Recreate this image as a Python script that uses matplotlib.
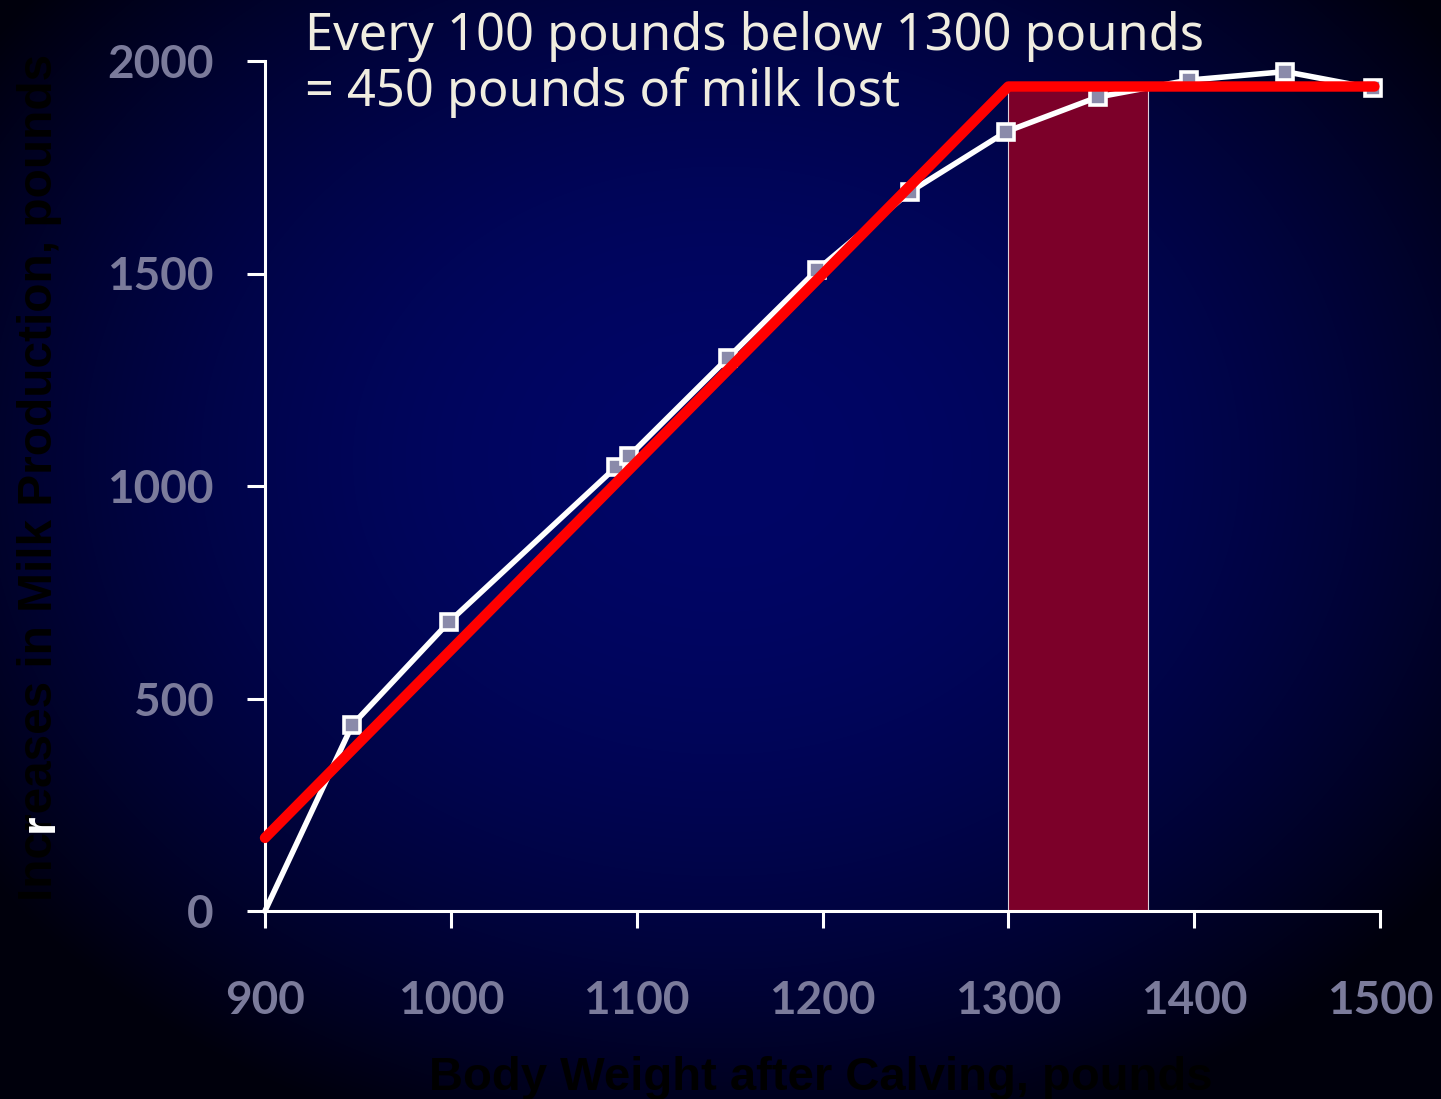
import matplotlib
matplotlib.use("Agg")
import matplotlib.pyplot as plt
import numpy as np
from matplotlib.transforms import IdentityTransform

# body weight after calving (lb) vs. increase in milk production (lb)
weight = [900, 947, 999, 1089, 1096, 1149, 1197, 1247, 1299, 1348, 1397, 1449, 1496]
milk = [0, 438, 680, 1045, 1071, 1301, 1508, 1692, 1834, 1915, 1955, 1975, 1936]

# red trend line
trend_x = [900, 1300, 1497]
trend_y = [172, 1940, 1940]

# highlighted band
band_start = 1300
band_width = 75
band_height = 1940

x_ticks = [900, 1000, 1100, 1200, 1300, 1400, 1500]
y_ticks = [0, 500, 1000, 1500, 2000]

note_lines = ["Every 100 pounds below 1300 pounds", "= 450 pounds of milk lost"]

W, H, DPI = 1441, 1099, 100
fig = plt.figure(figsize=(W / DPI, H / DPI), dpi=DPI)

# radial navy background
bg = fig.add_axes([0, 0, 1, 1], zorder=-10)
yy, xx = np.mgrid[0:H, 0:W]
d = np.sqrt(((xx - 720) / 900.0) ** 2 + ((yy - 460) / 720.0) ** 2)
t = 1 - np.clip(d, 0, 1) ** 2
centre = np.array([0, 6, 102]) / 255.0
edge = np.array([0, 0, 12]) / 255.0
img = edge[None, None, :] + (centre - edge)[None, None, :] * t[:, :, None]
bg.imshow(img, aspect="auto", extent=[0, 1, 0, 1])
bg.axis("off")

ax = fig.add_axes([265 / W, 1 - 911 / H, (1380 - 265) / W, (911 - 61) / H])
ax.set_facecolor("none")

ax.bar(band_start, band_height, width=band_width, align="edge",
       color="#7c0029", edgecolor="#e0d0dc", linewidth=0.8, zorder=1)
ax.plot(weight, milk, color="white", lw=4, marker="s", markersize=11.5,
        markerfacecolor="#8a8aaa", markeredgecolor="white", markeredgewidth=2.6,
        markevery=list(range(1, len(weight))), zorder=3, clip_on=False)
ax.plot(trend_x, trend_y, color="#ff0000", lw=7.5, solid_capstyle="round",
        solid_joinstyle="round", zorder=4, clip_on=False)

ax.set_xlim(900, 1500)
ax.set_ylim(0, 2000)
ax.set_xticks(x_ticks)
ax.set_yticks(y_ticks)
for s in ["top", "right"]:
    ax.spines[s].set_visible(False)
for s in ["left", "bottom"]:
    ax.spines[s].set_color("white")
    ax.spines[s].set_linewidth(2.2)
ax.tick_params(axis="both", direction="out", color="white", width=2.2,
               labelcolor="#7b7b9b")
ax.tick_params(axis="y", length=13, pad=24)
ax.tick_params(axis="x", length=12, pad=38)
for lab in ax.get_xticklabels() + ax.get_yticklabels():
    lab.set_fontfamily("Lato")
    lab.set_fontweight("bold")
    lab.set_fontsize(33)

fig.text(821 / W, 1 - 1090 / H, "Body Weight after Calving, pounds",
         ha="center", va="baseline", color="black", fontsize=34,
         fontweight="bold", family=["Liberation Sans Narrow", "Liberation Sans"])

ylab_kw = dict(color="black", fontsize=34.4, fontweight="bold",
               family=["Liberation Sans", "DejaVu Sans"])
ylab = fig.text(40 / W, 1 - 477 / H, "Increases in Milk Production, pounds",
                rotation=90, ha="center", va="center", **ylab_kw)

for line, base_y in zip(note_lines, [50, 106]):
    fig.text(305 / W, 1 - base_y / H, line, ha="left", va="baseline",
             color="#f0ede0", fontsize=36.4, family="Noto Sans")

# the 'r' in "Increases" is white in the original slide
renderer = fig.canvas.get_renderer()
bb = ylab.get_window_extent(renderer)
tmp = fig.text(0, 0, "Inc", **ylab_kw)
w_inc = tmp.get_window_extent(renderer).width
tmp.remove()
fig.text(bb.x0, bb.y0 + w_inc, "r", rotation=90, ha="left", va="bottom",
         transform=IdentityTransform(), **{**ylab_kw, "color": "white"})

fig.savefig("out.png", dpi=DPI)
